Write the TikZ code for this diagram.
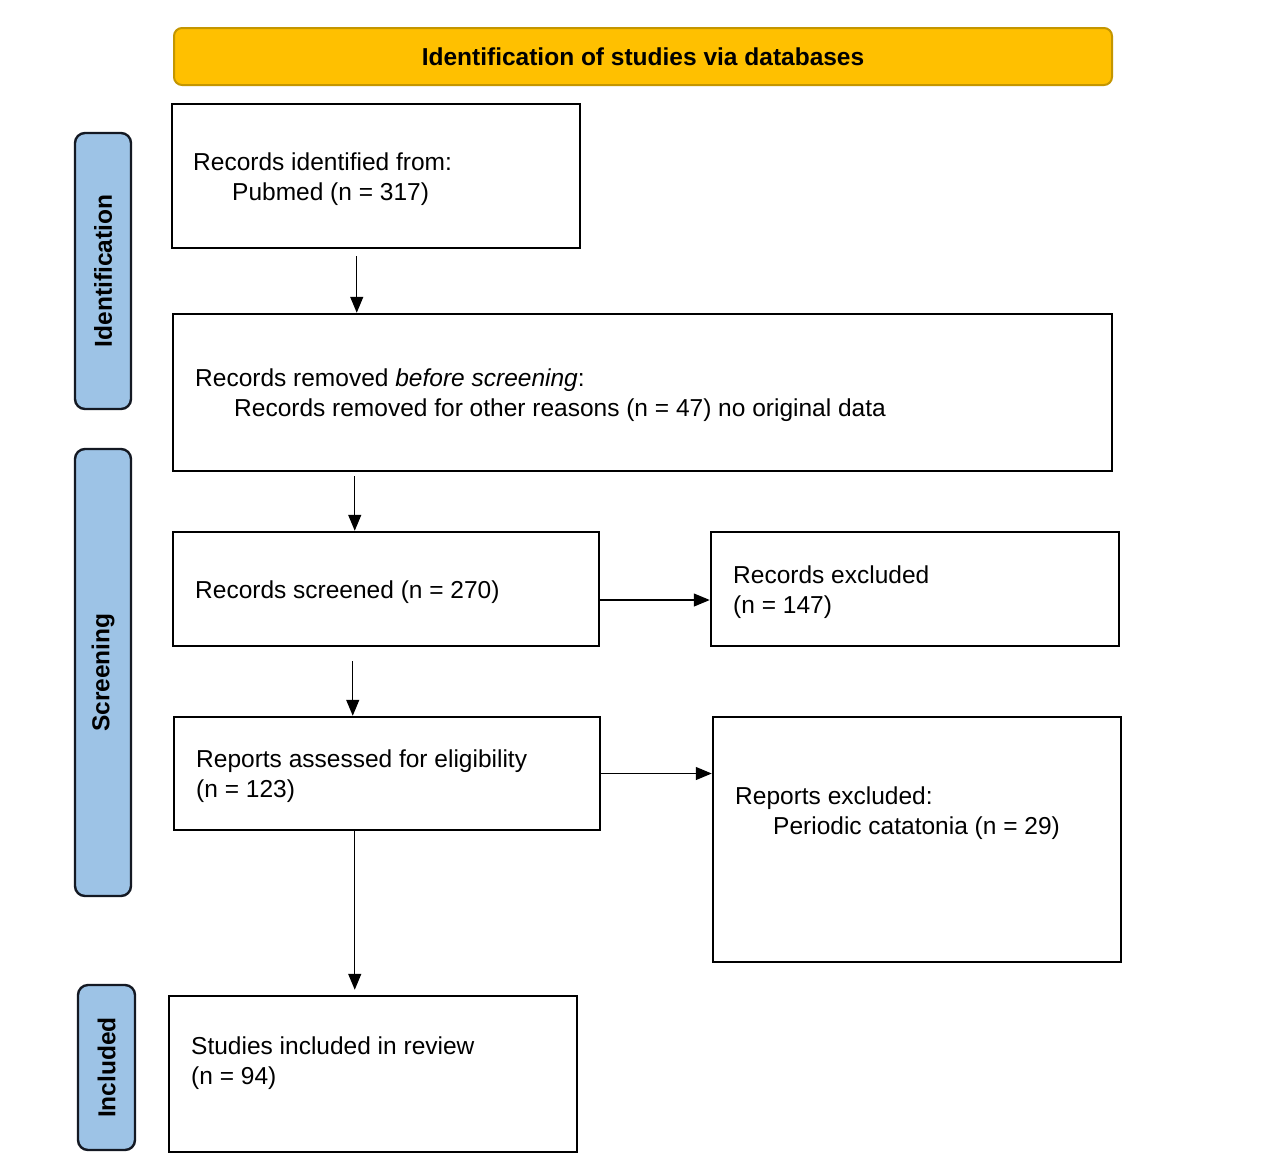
\documentclass[tikz,border=0pt]{standalone}
\usepackage{fontspec}
\setmainfont{Liberation Sans}
\usetikzlibrary{arrows.meta}
\definecolor{hdrfill}{RGB}{255,192,0}
\definecolor{hdrdraw}{RGB}{196,150,0}
\definecolor{sidefill}{RGB}{157,195,230}
\definecolor{sidedraw}{RGB}{20,25,35}
\begin{document}
\begin{tikzpicture}[x=1pt,y=-1pt,
  every node/.style={font=\fontsize{24.5}{30}\selectfont},
  box/.style={draw=black,line width=2.5pt,rectangle,inner sep=0pt},
  txt/.style={anchor=west,align=left,inner sep=0pt},
  side/.style={draw=sidedraw,fill=sidefill,line width=2.4pt,rounded corners=10pt,rotate=90,inner sep=0pt,font=\fontsize{24.5}{30}\selectfont\bfseries},
  hdr/.style={draw=hdrdraw,fill=hdrfill,line width=2pt,rounded corners=8pt,inner sep=0pt,font=\fontsize{24.5}{30}\selectfont\bfseries},
  arr/.style={line width=1.3pt,-{Triangle[length=16pt,width=13pt]}}
]
\useasboundingbox (0,0) rectangle (1268,1171);
\fill[white] (0,0) rectangle (1268,1171);

\node[hdr,minimum width=938pt,minimum height=57pt] (hdr) at (643,56.5) {Identification of studies via databases};

\node[side,minimum width=276pt,minimum height=56pt] (sid) at (103,271) {Identification};
\node[side,minimum width=447pt,minimum height=56pt] (sscr) at (103,672.5) {Screening};
\node[side,minimum width=165pt,minimum height=57pt] (sinc) at (106.5,1067.5) {Included};

\node[box,minimum width=408pt,minimum height=144pt] (b1) at (376,176) {};
\node[box,minimum width=939pt,minimum height=157pt] (b2) at (642.5,392.5) {};
\node[box,minimum width=426pt,minimum height=114pt] (b3) at (386,589) {};
\node[box,minimum width=408pt,minimum height=114pt] (b4) at (915,589) {};
\node[box,minimum width=426pt,minimum height=113pt] (b5) at (387,773.5) {};
\node[box,minimum width=408pt,minimum height=245pt] (b6) at (917,839.5) {};
\node[box,minimum width=408pt,minimum height=156pt] (b7) at (373,1074) {};

\node[txt] (t1) at (193,179) {Records identified from:\\\hspace*{39pt}Pubmed (n = 317)};
\node[txt] (t2) at (195,395) {Records removed \textit{before screening}:\\\hspace*{39pt}Records removed for other reasons (n = 47) no original data};
\node[txt] (t3) at (195,592) {Records screened (n = 270)};
\node[txt] (t4) at (733,592) {Records excluded\\(n = 147)};
\node[txt] (t5) at (196,776.5) {Reports assessed for eligibility\\(n = 123)};
\node[txt] (t6) at (735,813.5) {Reports excluded:\\\hspace*{38pt}Periodic catatonia (n = 29)};
\node[txt] (t7) at (191,1063.5) {Studies included in review\\(n = 94)};

\draw[arr] ([xshift=186pt,yshift=-7pt]b1.south west) -- ([xshift=185pt]b2.north west);
\draw[arr] ([xshift=183pt,yshift=-4pt]b2.south west) -- ([xshift=183pt]b3.north west);
\draw[arr] ([yshift=-11pt]b3.east) -- ([yshift=-11pt]b4.west);
\draw[arr] ([xshift=181pt,yshift=-14pt]b3.south west) -- ([xshift=180pt]b5.north west);
\draw[arr] (b5.east) -- (b5.east -| b6.west);
\draw[arr] ([xshift=182pt]b5.south west) -- ([xshift=187pt,yshift=5pt]b7.north west);
\end{tikzpicture}
\end{document}
